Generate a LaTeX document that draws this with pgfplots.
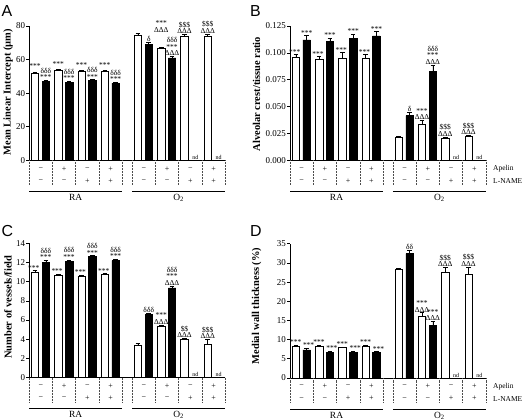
\documentclass[border=0pt]{standalone}
\usepackage{pgfplots}
\pgfplotsset{compat=1.18}
\usepackage{fontspec}
\setmainfont{Liberation Serif}
\newfontfamily\sansfam{Liberation Sans}
\newcommand\annfont{\fontsize{7.5}{6.6}\selectfont}
\newcommand\ann[3][0bp]{\node[anchor=south, align=center, inner sep=0.4bp, font=\annfont, yshift=#1] at (axis cs:#2) {#3};}
\newcommand\nd[1]{\node[anchor=south, inner sep=0.6bp, font=\fontsize{6}{6}\selectfont] at (axis cs:#1,0) {nd};}
\newcommand\sgn[3]{\node[font=\fontsize{8}{8}\selectfont, inner sep=0pt] at ([yshift=-8.5bp]axis cs:#1,0) {#2};
  \node[font=\fontsize{8}{8}\selectfont, inner sep=0pt] at ([yshift=-20.7bp]axis cs:#1,0) {#3};}
\newcommand\lowertable{%
  \pgfplotsinvokeforeach{0,2,4,6,8,8.85,10.85,12.85,14.85,16.85}{%
    \draw[densely dotted, line width=0.5bp, black!70] (axis cs:##1,0) -- ([yshift=-25bp]axis cs:##1,0);}
  \sgn{1}{−}{−}\sgn{3}{+}{−}\sgn{5}{−}{+}\sgn{7}{+}{+}
  \sgn{9.85}{−}{−}\sgn{11.85}{+}{−}\sgn{13.85}{−}{+}\sgn{15.85}{+}{+}
  \draw[line width=0.6bp] ([yshift=-30.8bp]axis cs:0,0) -- ([yshift=-30.8bp]axis cs:8,0);
  \draw[line width=0.6bp] ([yshift=-30.8bp]axis cs:8.85,0) -- ([yshift=-30.8bp]axis cs:16.85,0);
  \node[anchor=base, inner sep=0pt, font=\fontsize{9.5}{9.5}\selectfont] at ([yshift=-40bp]axis cs:4,0) {RA};
  \node[anchor=base, inner sep=0pt, font=\fontsize{9.5}{9.5}\selectfont] at ([yshift=-40bp]axis cs:12.85,0) {O\textsubscript{2}};
}
\newcommand\rowlabels{%
  \node[anchor=west, inner sep=0pt, font=\fontsize{7.5}{7.5}\selectfont] at ([xshift=7bp,yshift=-8.5bp]axis cs:16.85,0) {Apelin};
  \node[anchor=west, inner sep=0pt, font=\fontsize{7.5}{7.5}\selectfont] at ([xshift=7bp,yshift=-20.7bp]axis cs:16.85,0) {L-NAME};
}
\pgfplotsset{
  panel/.style={
    scale only axis, width=196bp, height=134.3bp,
    xmin=0, xmax=16.85, ymin=0,
    axis x line*=bottom, axis y line*=left,
    xtick=\empty, tick align=outside, major tick length=3bp,
    axis line style={line width=0.7bp},
    every tick/.style={line width=0.7bp, black},
    yticklabel style={font=\fontsize{9}{9}\selectfont, inner sep=1bp},
    /pgf/number format/assume math mode=true,
    clip=false, anchor=south west,
  },
  barplot/.style={ybar, bar width=0.64, bar shift=0pt, line width=0.6bp, draw=black,
    error bars/y dir=plus, error bars/y explicit,
    error bars/error bar style={line width=0.6bp, black},
    error bars/error mark options={line width=0.6bp, mark size=2.3bp, rotate=90, black}},
}
\begin{document}
\begin{tikzpicture}
\useasboundingbox (0bp,0bp) rectangle (528bp,-420bp);
% ---------------- A
\begin{axis}[panel, at={(29.2bp,-160.3bp)}, ymax=80, ytick={0,20,40,60,80}]
\addplot[barplot, fill=white] table[x=x, y=y, y error=e] {
x y e
0.5 52 0.5
2.5 53.5 0.5
4.5 53 0.4
6.5 53 0.4
9.35 74.5 1.2
11.35 66.5 1.0
13.35 74 1.0
15.35 74 1.2
};
\addplot[barplot, fill=black] table[x=x, y=y, y error=e] {
x y e
1.43 47 0.6
3.43 46.5 0.5
5.43 47.5 0.5
7.43 46 0.5
10.28 69 1.2
12.28 61 0.8
};
\ann[3bp]{0.5,52.5}{***}
\ann{1.43,47.6}{δδδ\\***}
\ann[3bp]{2.5,54}{***}
\ann{3.43,47}{δδδ\\***}
\ann[3bp]{4.5,53.4}{***}
\ann{5.43,48}{δδδ\\***}
\ann[3bp]{6.5,53.4}{***}
\ann{7.43,46.5}{δδδ\\***}
\ann{10.28,70.2}{δ}
\ann{11.35,76}{***\\ΔΔΔ}
\ann{12.28,61.8}{δδδ\\***\\ΔΔΔ}
\ann{13.35,75}{\$\$\$\\ΔΔΔ}
\ann{15.35,75.2}{\$\$\$\\ΔΔΔ}
\nd{14.28}\nd{16.28}
\lowertable
\end{axis}
% ---------------- B
\begin{axis}[panel, at={(290bp,-160.3bp)}, ymax=0.125, ytick={0,0.025,0.05,0.075,0.1,0.125},
  scaled y ticks=false,
  yticklabel style={/pgf/number format/fixed, /pgf/number format/fixed zerofill, /pgf/number format/precision=3}]
\addplot[barplot, fill=white] table[x=x, y=y, y error=e] {
x y e
0.5 0.0958 0.0028
2.5 0.094 0.003
4.5 0.0952 0.005
6.5 0.0949 0.004
9.35 0.0217 0.001
11.35 0.0335 0.0035
13.35 0.0208 0.001
15.35 0.0223 0.0008
};
\addplot[barplot, fill=black] table[x=x, y=y, y error=e] {
x y e
1.43 0.112 0.004
3.43 0.1104 0.003
5.43 0.1135 0.004
7.43 0.1157 0.004
10.28 0.0416 0.0035
12.28 0.0828 0.006
};
\ann{0.4,0.0975}{***}
\ann{1.43,0.116}{***}
\ann{2.4,0.096}{***}
\ann{3.43,0.1134}{***}
\ann{4.4,0.0995}{***}
\ann{5.43,0.1175}{***}
\ann{6.4,0.098}{***}
\ann{7.43,0.1197}{***}
\ann{10.28,0.0451}{δ}
\ann{11.35,0.037}{***\\ΔΔΔ}
\ann{12.28,0.0888}{δδδ\\***\\ΔΔΔ}
\ann{13.35,0.0218}{\$\$\$\\ΔΔΔ}
\ann{15.35,0.0231}{\$\$\$\\ΔΔΔ}
\nd{14.28}\nd{16.28}
\lowertable
\rowlabels
\end{axis}
% ---------------- C
\begin{axis}[panel, at={(29.2bp,-377.6bp)}, ymax=14, ytick={0,2,4,6,8,10,12,14}]
\addplot[barplot, fill=white] table[x=x, y=y, y error=e] {
x y e
0.5 10.95 0.25
2.5 10.65 0.15
4.5 10.55 0.15
6.5 10.75 0.1
9.35 3.4 0.2
11.35 5.3 0.2
13.35 4.0 0.1
15.35 3.45 0.55
};
\addplot[barplot, fill=black] table[x=x, y=y, y error=e] {
x y e
1.43 12.05 0.15
3.43 12.15 0.1
5.43 12.6 0.1
7.43 12.2 0.12
10.28 6.55 0.15
12.28 9.35 0.2
};
\ann{0.4,11.1}{***}
\ann{1.43,12.2}{δδδ\\***}
\ann{2.4,10.75}{***}
\ann{3.43,12.25}{δδδ\\***}
\ann{4.4,10.65}{***}
\ann{5.43,12.7}{δδδ\\***}
\ann{6.4,10.8}{***}
\ann{7.43,12.32}{δδδ\\***}
\ann{10.28,6.7}{δδδ}
\ann{11.35,5.5}{***\\ΔΔΔ}
\ann{12.28,9.55}{δδδ\\***\\ΔΔΔ}
\ann{13.35,4.1}{\$\$\\ΔΔΔ}
\ann{15.35,4.0}{\$\$\$\\ΔΔΔ}
\nd{14.28}\nd{16.28}
\lowertable
\end{axis}
% ---------------- D
\begin{axis}[panel, at={(290bp,-378bp)}, ymax=35, ytick={0,5,10,15,20,25,30,35}]
\addplot[barplot, fill=white] table[x=x, y=y, y error=e] {
x y e
0.5 8.3 0.2
2.5 8.3 0.2
4.5 7.95 0.15
6.5 8.25 0.4
9.35 28.3 0.3
11.35 16.2 0.8
13.35 27.5 1.3
15.35 26.9 2.0
};
\addplot[barplot, fill=black] table[x=x, y=y, y error=e] {
x y e
1.43 7.35 0.35
3.43 6.75 0.2
5.43 6.75 0.3
7.43 6.65 0.2
10.28 32.4 1.0
12.28 13.8 1.0
};
\ann{0.5,8.5}{***}
\ann{1.6,7.7}{***}
\ann{2.5,8.5}{***}
\ann{3.6,6.95}{***}
\ann{4.5,8.1}{***}
\ann{5.6,7.05}{***}
\ann{6.5,8.65}{***}
\ann{7.6,6.85}{***}
\ann{10.28,33.4}{δδ}
\ann{11.35,17}{***\\ΔΔΔ}
\ann{12.28,14.8}{***\\ΔΔΔ}
\ann{13.35,28.8}{\$\$\$\\ΔΔΔ}
\ann{15.35,28.9}{\$\$\$\\ΔΔΔ}
\nd{14.28}\nd{16.28}
\lowertable
\rowlabels
\end{axis}
% ---------------- labels
\node[rotate=90, font=\bfseries\fontsize{10.5}{11}\selectfont] at (8bp,-92bp) {Mean Linear Intercept (µm)};
\node[rotate=90, font=\bfseries\fontsize{10.5}{11}\selectfont] at (256.5bp,-94bp) {Alveolar crest/tissue ratio};
\node[rotate=90, font=\bfseries\fontsize{10.5}{11}\selectfont] at (8bp,-307bp) {Number of vessels/field};
\node[rotate=90, font=\bfseries\fontsize{10.5}{11}\selectfont] at (256.5bp,-306bp) {Medial wall thickness (\%)};
\node[anchor=base west, inner sep=0pt, font=\sansfam\fontsize{16}{16}\selectfont] at (1.5bp,-16.7bp) {A};
\node[anchor=base west, inner sep=0pt, font=\sansfam\fontsize{16}{16}\selectfont] at (250bp,-16.7bp) {B};
\node[anchor=base west, inner sep=0pt, font=\sansfam\fontsize{16}{16}\selectfont] at (1.5bp,-236.7bp) {C};
\node[anchor=base west, inner sep=0pt, font=\sansfam\fontsize{16}{16}\selectfont] at (250bp,-236.7bp) {D};
\end{tikzpicture}
\end{document}
